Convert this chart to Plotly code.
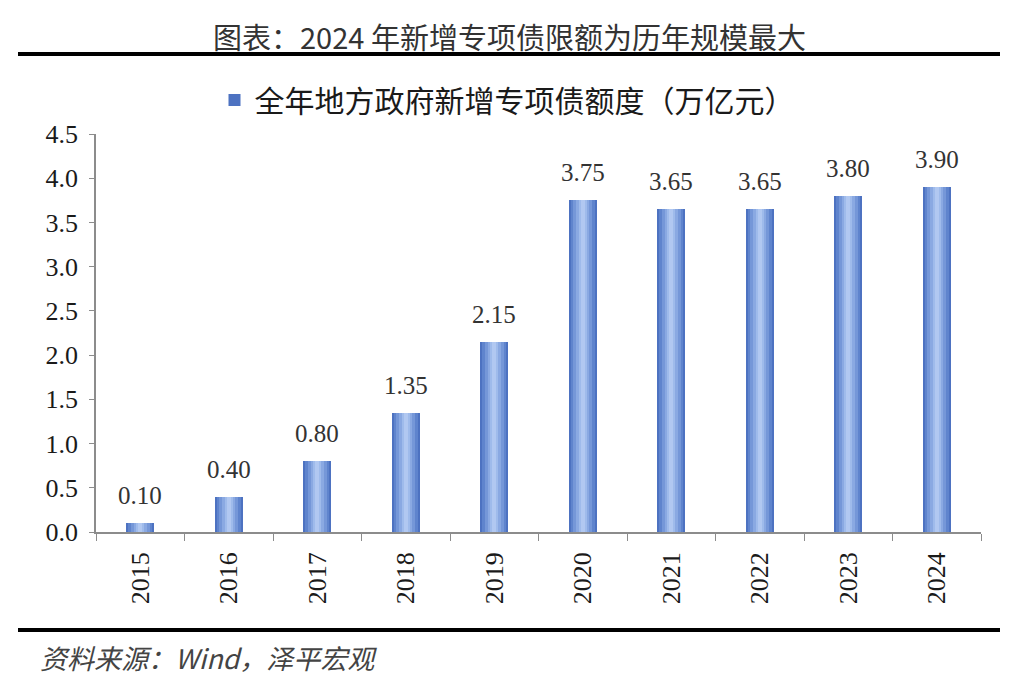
import plotly.graph_objects as go

years = ["2015", "2016", "2017", "2018", "2019", "2020", "2021", "2022", "2023", "2024"]
values = [0.10, 0.40, 0.80, 1.35, 2.15, 3.75, 3.65, 3.65, 3.80, 3.90]
labels = ["0.10", "0.40", "0.80", "1.35", "2.15", "3.75", "3.65", "3.65", "3.80", "3.90"]
series_name = "全年地方政府新增专项债额度（万亿元）"
title_text = "图表：2024 年新增专项债限额为历年规模最大"
source_text = "资料来源：Wind，泽平宏观"

# layered bars to imitate the horizontal gradient of the original
layers = [
    (0.32, "#4d72c1"),
    (0.27, "#5f84cd"),
    (0.21, "#7597d8"),
    (0.15, "#8aa9e2"),
    (0.09, "#9fbbeb"),
    (0.04, "#b1c8f1"),
]

fig = go.Figure()
for i, (w, c) in enumerate(layers):
    fig.add_trace(go.Bar(
        x=years, y=values, width=w,
        marker=dict(color=c, line=dict(width=0)),
        name=series_name,
        showlegend=(i == 0),
        hoverinfo="skip" if i else None,
    ))

OFF = 8  # page body margin
W, H = 1024 - OFF, 679 - OFF
L, R, T, B = 96 - OFF, 43, 134 - OFF, 147
pw, ph = W - L - R, H - T - B

def px_x(x):
    return (x - OFF - L) / pw

def px_y(y):
    return (H - B - (y - OFF)) / ph

# value labels: x given as category index on the category axis
value_annotations = [
    dict(text=t, x=idx, y=v, xref="x", yref="y", xanchor="center", yanchor="bottom",
         yshift=12, showarrow=False,
         font=dict(family="Liberation Serif", size=25, color="#333333"))
    for idx, (v, t) in enumerate(zip(values, labels))
]

fig.update_layout(
    width=W, height=H,
    margin=dict(l=L, r=R, t=T, b=B, autoexpand=False),
    paper_bgcolor="white", plot_bgcolor="white",
    barmode="overlay",
    bargap=0,
    showlegend=True,
    legend=dict(
        orientation="h", x=px_x(507), xanchor="center", y=px_y(100), yanchor="middle",
        font=dict(family="Noto Sans CJK SC", size=30, color="#1a1a1a"),
        bgcolor="rgba(0,0,0,0)",
    ),
    xaxis=dict(
        type="category", categoryorder="array", categoryarray=years,
        range=[-0.5, len(years) - 0.5],
        showline=True, linecolor="#8c8c8c", linewidth=1.5,
        ticks="outside", ticklen=7, tickcolor="#8c8c8c", tickson="boundaries",
        tickangle=-90, ticklabelstandoff=8,
        tickfont=dict(family="Liberation Serif", size=26, color="#1a1a1a"),
        showgrid=False,
    ),
    yaxis=dict(
        range=[0, 4.5], dtick=0.5, tickformat=".1f",
        showline=True, linecolor="#8c8c8c", linewidth=1.5,
        ticks="outside", ticklen=5, tickcolor="#8c8c8c", ticklabelstandoff=6,
        tickfont=dict(family="Liberation Serif", size=26, color="#1a1a1a"),
        showgrid=False, zeroline=False,
    ),
    shapes=[
        dict(type="line", xref="paper", yref="paper",
             x0=px_x(18), x1=px_x(1000), y0=px_y(54), y1=px_y(54),
             line=dict(color="black", width=4)),
        dict(type="line", xref="paper", yref="paper",
             x0=px_x(18), x1=px_x(1000), y0=px_y(630), y1=px_y(630),
             line=dict(color="black", width=4)),
    ],
    annotations=value_annotations + [
        dict(text=title_text, xref="paper", yref="paper",
             x=px_x(509), y=px_y(36), xanchor="center", yanchor="middle",
             showarrow=False,
             font=dict(family="Noto Sans CJK SC", size=29, color="#333333")),
        dict(text="<i>" + source_text + "</i>", xref="paper", yref="paper",
             x=px_x(38), y=px_y(657), xanchor="left", yanchor="middle",
             showarrow=False,
             font=dict(family="Noto Sans CJK SC", size=27, color="#444444")),
    ],
)

fig.write_html("out.html")
